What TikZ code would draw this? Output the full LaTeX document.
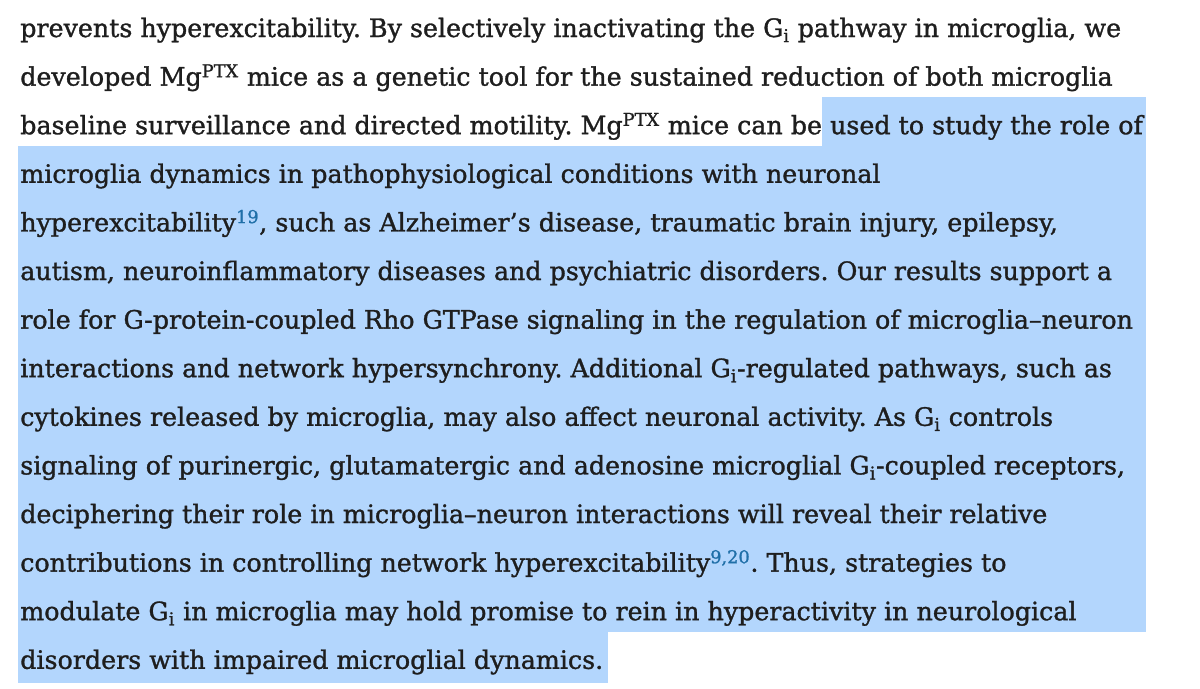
\documentclass[tikz,border=0pt]{standalone}
\usepackage{fontspec}
\setmainfont{DejaVu Serif}[FakeBold=1.2]
\definecolor{hl}{HTML}{B3D6FD}
\definecolor{txt}{HTML}{1E1E1E}
\definecolor{cite}{HTML}{1F6FA8}
\newcommand{\Gi}{G\textsubscript{i}}
\newcommand{\ct}[1]{\textsuperscript{\textcolor{cite}{#1}}}
\begin{document}
\frenchspacing
\begin{tikzpicture}[x=0.75pt,y=-0.75pt,
  ln/.style={anchor=base west,inner sep=0pt,text=txt,font=\fontsize{19}{21}\selectfont}]
\useasboundingbox (0,0) rectangle (1200,689);
\fill[white] (0,0) rectangle (1200,689);
\def\sp{48.6}
\fill[hl] (822,{37+2*\sp-37}) rectangle (1146,{37+2*\sp+12});
\fill[hl] (18,{37+3*\sp-37}) rectangle (1146,{37+12*\sp+12});
\fill[hl] (18,{37+13*\sp-37}) rectangle (608,{37+13*\sp+14});
\node[ln] (l1) at (20,37) {prevents hyperexcitability. By selectively inactivating the \Gi\ pathway in microglia, we};
\node[ln] (l2) at (20,{37+\sp}) {developed Mg\textsuperscript{PTX} mice as a genetic tool for the sustained reduction of both microglia};
\node[ln] (l3) at (20,{37+2*\sp}) {baseline surveillance and directed motility. Mg\textsuperscript{PTX} mice can be used to study the role of};
\node[ln] (l4) at (20,{37+3*\sp}) {microglia dynamics in pathophysiological conditions with neuronal};
\node[ln] (l5) at (20,{37+4*\sp}) {hyperexcitability\ct{19}, such as Alzheimer’s disease, traumatic brain injury, epilepsy,};
\node[ln] (l6) at (20,{37+5*\sp}) {autism, neuroinflammatory diseases and psychiatric disorders. Our results support a};
\node[ln] (l7) at (20,{37+6*\sp}) {role for G-protein-coupled Rho GTPase signaling in the regulation of microglia–neuron};
\node[ln] (l8) at (20,{37+7*\sp}) {interactions and network hypersynchrony. Additional \Gi-regulated pathways, such as};
\node[ln] (l9) at (20,{37+8*\sp}) {cytokines released by microglia, may also affect neuronal activity. As \Gi\ controls};
\node[ln] (l10) at (20,{37+9*\sp}) {signaling of purinergic, glutamatergic and adenosine microglial \Gi-coupled receptors,};
\node[ln] (l11) at (20,{37+10*\sp}) {deciphering their role in microglia–neuron interactions will reveal their relative};
\node[ln] (l12) at (20,{37+11*\sp}) {contributions in controlling network hyperexcitability\ct{9,20}. Thus, strategies to};
\node[ln] (l13) at (20,{37+12*\sp}) {modulate \Gi\ in microglia may hold promise to rein in hyperactivity in neurological};
\node[ln] (l14) at (20,{37+13*\sp}) {disorders with impaired microglial dynamics.};
\end{tikzpicture}
\end{document}
